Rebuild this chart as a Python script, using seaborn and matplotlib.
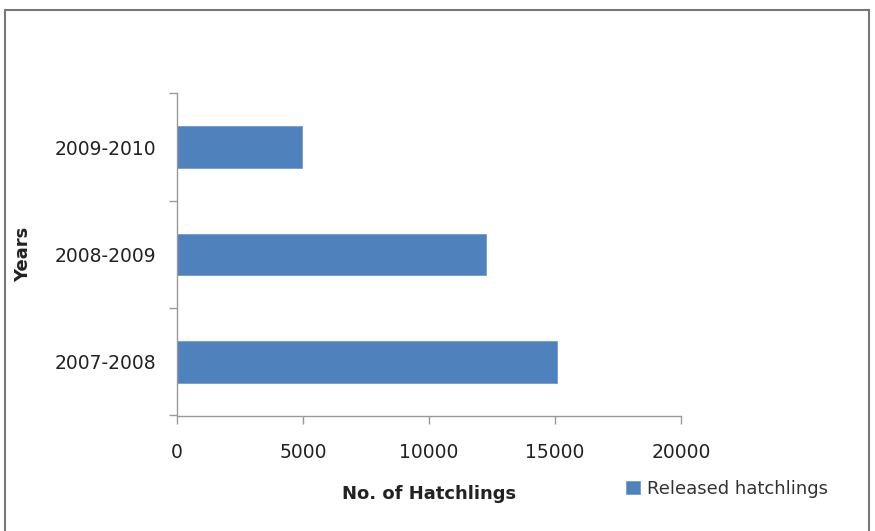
import matplotlib
matplotlib.use("Agg")
import matplotlib.pyplot as plt
import matplotlib.patches as mpatches
import seaborn as sns
import pandas as pd

years = ["2009-2010", "2008-2009", "2007-2008"]
hatchlings = [4950, 12250, 15070]
series_name = "Released hatchlings"
x_ticks = [0, 5000, 10000, 15000, 20000]

df = pd.DataFrame({"Years": years, "No. of Hatchlings": hatchlings})

sns.set_style("white")
plt.rcParams["font.family"] = ["DejaVu Sans"]

fig = plt.figure(figsize=(8.75, 5.31), dpi=100)
ax = fig.add_axes([177/875, 1-415.5/531, 504/875, 322/531])

sns.barplot(data=df, y="Years", x="No. of Hatchlings", order=years,
            color="#4F81BD", saturation=1, width=0.39, orient="h",
            label=series_name, ax=ax, edgecolor="#6F9BD3", linewidth=0.6)

ax.set_xlim(0, 20000)
ax.set_ylim(2.5, -0.5)
ax.set_xticks(x_ticks)
ax.set_xticklabels([str(t) for t in x_ticks], fontsize=13.5, color="#222222")

# Excel-like category ticks at boundaries, labels at centres
ax.set_yticks([-0.5, 0.5, 1.5, 2.5])
ax.set_yticklabels([])
ax.set_yticks([0, 1, 2], minor=True)
ax.set_yticklabels(years, minor=True, fontsize=13.5, color="#222222")
ax.tick_params(axis="y", which="minor", left=True, length=0, pad=15)
ax.tick_params(axis="y", which="major", left=True, length=6, width=1,
               color="#999999", direction="out")
ax.tick_params(axis="x", bottom=True, length=6, width=1, color="#999999",
               direction="out", pad=14)

for s in ["top", "right"]:
    ax.spines[s].set_visible(False)
for s in ["left", "bottom"]:
    ax.spines[s].set_color("#999999")
    ax.spines[s].set_linewidth(1)

ax.set_xlabel("No. of Hatchlings", fontsize=13, fontweight="bold", color="#222222")
ax.xaxis.set_label_coords(0.5, -0.215)
ax.set_ylabel("Years", fontsize=13, fontweight="bold", color="#222222")
ax.yaxis.set_label_coords(-0.288, 0.5)

leg = ax.legend(loc="center left", bbox_to_anchor=(610/875, 1-489/531),
                bbox_transform=fig.transFigure, frameon=False, fontsize=13,
                handlelength=0.75, handleheight=0.75, handletextpad=0.4)
for t in leg.get_texts():
    t.set_color("#333333")

# outer frame
fig.patches.append(mpatches.Rectangle((5/875, -0.02), 864/875, 1.02 - 10/531,
                                      transform=fig.transFigure, fill=False,
                                      edgecolor="#777777", linewidth=1.5))

fig.savefig("out.png", dpi=100, facecolor="white")
